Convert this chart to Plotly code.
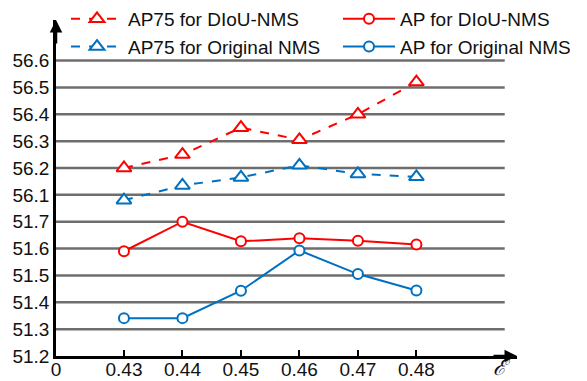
import plotly.graph_objects as go

eps_labels = ["0.43", "0.44", "0.45", "0.46", "0.47", "0.48"]
ap75_diou = [56.20, 56.25, 56.35, 56.305, 56.40, 56.52]
ap75_orig = [56.08, 56.135, 56.165, 56.21, 56.178, 56.167]
ap_diou = [51.59, 51.70, 51.627, 51.638, 51.629, 51.615]
ap_orig = [51.341, 51.341, 51.443, 51.593, 51.505, 51.444]
y_tick_labels = ["51.2", "51.3", "51.4", "51.5", "51.6", "51.7",
                 "56.1", "56.2", "56.3", "56.4", "56.5", "56.6"]

RED = "#FF0000"
BLUE = "#0070C0"
FONT = "Liberation Sans, Arial, sans-serif"
FS = 19


def broken(v):
    # broken y axis: 51.2..51.7 -> 0..5, 56.1..56.6 -> 6..11
    return (v - 51.2) * 10 if v < 54 else (v - 56.1) * 10 + 6


xs = list(range(1, len(eps_labels) + 1))
X0 = -0.162
X_END = 7.72
Y_END = 12.51

fig = go.Figure()


def add(name, vals, color, dash, symbol, size, legend):
    fig.add_trace(go.Scatter(
        x=xs, y=[broken(v) for v in vals], name=name, mode="lines+markers",
        line=dict(color=color, width=2, dash=dash),
        marker=dict(symbol=symbol, size=size, color="white",
                    line=dict(color=color, width=2)),
        customdata=vals, legend=legend,
    ))


add("AP75 for DIoU-NMS", ap75_diou, RED, "dash", "triangle-up", 13, "legend")
add("AP75 for Original NMS", ap75_orig, BLUE, "dash", "triangle-up", 13, "legend")
add("AP for DIoU-NMS", ap_diou, RED, "solid", "circle", 10, "legend2")
add("AP for Original NMS", ap_orig, BLUE, "solid", "circle", 10, "legend2")

shapes = []
for i in range(1, len(y_tick_labels)):
    shapes.append(dict(type="line", xref="x", yref="y", x0=X0, x1=7.51, y0=i, y1=i,
                       line=dict(color="#6e6e6e", width=2.5), layer="below"))

legend_common = dict(orientation="v", xref="container", yref="container",
                     xanchor="left", y=1.012, yanchor="top", itemwidth=52,
                     font=dict(family=FONT, size=FS, color="#111111"),
                     bgcolor="rgba(0,0,0,0)", traceorder="normal")

fig.update_layout(
    width=587, height=381,
    margin=dict(l=56, r=70, t=20, b=25, autoexpand=False),
    paper_bgcolor="white", plot_bgcolor="white",
    font=dict(family=FONT, size=FS, color="#111111"),
    shapes=shapes,
    showlegend=True,
    legend=dict(x=66 / 587, **legend_common),
    legend2=dict(x=338 / 587, **legend_common),
    xaxis=dict(range=[X0, X_END], showgrid=False, zeroline=False,
               tickvals=[X0] + xs, ticktext=["0"] + eps_labels,
               ticks="inside", ticklen=6, tickwidth=2, tickcolor="black",
               ticklabelstandoff=-6,
               showline=True, linecolor="black", linewidth=2.5,
               tickfont=dict(size=FS)),
    yaxis=dict(range=[0, Y_END], showgrid=False, zeroline=False,
               tickvals=list(range(len(y_tick_labels))), ticktext=y_tick_labels,
               ticks="", showline=True, linecolor="black", linewidth=2.5,
               tickfont=dict(size=FS)),
    annotations=[
        dict(xref="paper", yref="paper", x=0, y=1, ax=0, ay=25,
             showarrow=True, arrowhead=2, arrowsize=1, arrowwidth=2.5, arrowcolor="black", text=""),
        dict(xref="paper", yref="paper", x=1, y=0, ax=-25, ay=0,
             showarrow=True, arrowhead=2, arrowsize=1, arrowwidth=2.5, arrowcolor="black", text=""),
        dict(xref="paper", yref="paper", x=(501 - 56) / 461, y=0, yshift=-11,
             xanchor="center", yanchor="middle",
             showarrow=False, text="<i>ℰ</i>",
             font=dict(family="DejaVu Serif, serif", size=22, color="#111111")),
    ],
)

fig.write_html("out.html", config={"displayModeBar": False},
               post_script="document.body.style.margin='0';")
